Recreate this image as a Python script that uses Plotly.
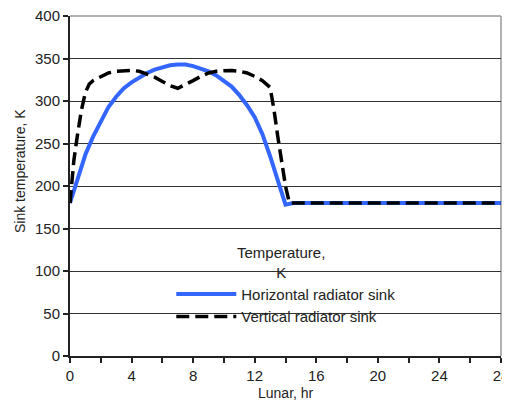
import plotly.graph_objects as go

# Horizontal radiator sink (blue solid)
h_time = [0, 0.5, 1, 1.5, 2, 2.5, 3, 3.5, 4, 4.5, 5, 5.5, 6, 6.5, 7, 7.5, 8, 8.5, 9,
          9.5, 10, 10.5, 11, 11.5, 12, 12.5, 13, 13.5, 14, 14.5, 16, 20, 24, 28]
h_temp = [180, 210, 237, 258, 276, 293, 305, 315, 322, 328, 333, 337, 340, 342, 343, 343,
          341, 338, 335, 330, 324, 317, 307, 295, 281, 261, 235, 205, 178, 180, 180, 180, 180, 180]

# Vertical radiator sink (black dashed)
v_time = [0, 0.25, 0.5, 0.75, 1, 1.25, 1.5, 2, 2.5, 3, 3.5, 4, 4.5, 5, 5.5, 6, 6.5, 7,
          7.5, 8, 8.5, 9, 9.5, 10, 10.5, 11, 11.5, 12, 12.5, 13, 13.25, 13.5, 13.75, 14,
          14.25, 16, 20, 24, 28]
v_temp = [180, 230, 262, 290, 310, 320, 324, 329, 333, 335, 336, 336, 335, 332, 328, 323,
          318, 315, 319, 324, 329, 333, 335, 336, 336, 335, 333, 329, 324, 316, 290, 258,
          228, 200, 180, 180, 180, 180, 180]

x_ticks = [0, 4, 8, 12, 16, 20, 24, 28]
y_ticks = [0, 50, 100, 150, 200, 250, 300, 350, 400]

TXT = "#222222"

fig = go.Figure()
fig.add_trace(go.Scatter(x=h_time, y=h_temp, mode="lines", name="Horizontal radiator sink",
                         line=dict(color="#3366ff", width=4)))
fig.add_trace(go.Scatter(x=v_time, y=v_temp, mode="lines", name="Vertical radiator sink",
                         line=dict(color="black", width=3.5, dash="13px,6px")))

# white box behind legend (covers gridlines)
fig.add_shape(type="rect", xref="paper", yref="paper", x0=0.202, x1=0.777, y0=0.08, y1=0.36,
              fillcolor="white", line=dict(width=0), layer="between")
# gray top/right border
fig.add_shape(type="line", xref="paper", yref="paper", x0=0, x1=1, y0=1, y1=1,
              line=dict(color="#999999", width=1.5), layer="below")
fig.add_shape(type="line", xref="paper", yref="paper", x0=1, x1=1, y0=0, y1=1,
              line=dict(color="#999999", width=1.5), layer="below")

# legend title
fig.add_annotation(text="Temperature,<br>K", xref="paper", yref="paper", x=0.49, y=0.275,
                   xanchor="center", yanchor="middle", showarrow=False, align="center",
                   font=dict(size=15, color=TXT))
# axis titles
fig.add_annotation(text="Sink temperature, K", xref="paper", yref="paper", x=-0.116, y=0.544,
                   xanchor="center", yanchor="middle", showarrow=False, textangle=-90,
                   font=dict(size=14, color=TXT))
fig.add_annotation(text="Lunar, hr", xref="paper", yref="paper", x=0.5, y=-0.109,
                   xanchor="center", yanchor="middle", showarrow=False,
                   font=dict(size=14, color=TXT))

fig.update_layout(
    width=502, height=394,
    margin=dict(l=62, r=9, t=8, b=46),
    paper_bgcolor="white", plot_bgcolor="white",
    font=dict(family="Liberation Sans, Arial, sans-serif", size=15, color=TXT),
    showlegend=True,
    legend=dict(
        x=0.235, y=0.23, xanchor="left", yanchor="top",
        bgcolor="rgba(0,0,0,0)",
        font=dict(size=15),
        itemwidth=60,
        tracegroupgap=0,
    ),
    xaxis=dict(
        range=[0, 28], tickvals=x_ticks, ticks="outside", ticklen=5, tickwidth=1.5,
        tickcolor="#222", showline=True, linecolor="#222", linewidth=2, showgrid=False,
        zeroline=False, minor=dict(dtick=2, ticks="outside", ticklen=5, tickwidth=1.5, tickcolor="#222"),
        tickfont=dict(size=15), automargin=False, ticklabeloverflow="allow",
    ),
    yaxis=dict(
        range=[0, 400], tickvals=y_ticks, ticks="outside", ticklen=5, tickwidth=1.5,
        tickcolor="#222", showline=True, linecolor="#222", linewidth=2,
        showgrid=True, gridcolor="#333333", gridwidth=1.2, zeroline=False,
        tickfont=dict(size=15), automargin=False, ticklabeloverflow="allow",
    ),
)

fig.write_html("out.html")
